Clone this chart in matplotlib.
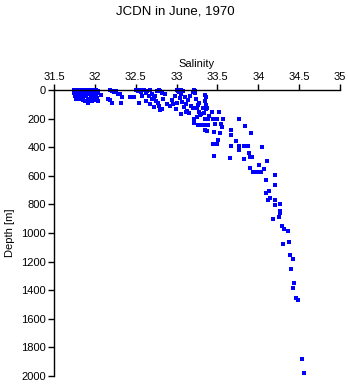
import matplotlib
matplotlib.use("Agg")
import matplotlib.pyplot as plt

plt.rcParams['font.family'] = ['Liberation Sans', 'DejaVu Sans']

title = "JCDN in June, 1970"
xlabel = "Salinity"
ylabel = "Depth [m]"
xticks = [31.5, 32, 32.5, 33, 33.5, 34, 34.5, 35]
xticklabels = ["31.5", "32", "32.5", "33", "33.5", "34", "34.5", "35"]
yticks = [0, 200, 400, 600, 800, 1000, 1200, 1400, 1600, 1800, 2000]

# surface cluster (fresh near-surface water)
sal_surface = [31.74, 31.76, 31.78, 31.80, 31.82, 31.84, 31.86, 31.88, 31.90, 31.92,
               31.94, 31.96, 31.98, 32.00, 32.02, 32.04, 31.75, 31.78, 31.81, 31.84,
               31.87, 31.90, 31.93, 31.95, 31.98, 32.01, 32.03, 31.76, 31.79, 31.83,
               31.86, 31.89, 31.92, 31.95, 31.97, 32.00, 32.03, 31.77, 31.80, 31.85,
               31.88, 31.91, 31.94, 31.97, 32.02, 32.04, 31.92]
dep_surface = [0, 5, 0, 10, 3, 0, 8, 2, 0, 6,
               0, 4, 0, 5, 0, 8, 20, 25, 18, 30,
               22, 28, 15, 35, 20, 30, 18, 45, 50, 40,
               55, 45, 60, 48, 65, 50, 55, 65, 60, 70,
               78, 85, 72, 80, 70, 75, 92]

# upper layer 32.05 - 33.2
sal_upper = [32.08, 32.16, 32.19, 32.21, 32.19, 32.21, 32.24, 32.26, 32.28, 32.31,
             32.33, 32.32, 32.43, 32.48,
             32.50, 32.53, 32.55, 32.57, 32.60, 32.62, 32.64, 32.67, 32.54, 32.63,
             32.58, 32.66, 32.70, 32.72, 32.74, 32.72, 32.75, 32.77, 32.79, 32.80,
             32.82, 32.82, 32.84, 32.86, 32.80, 32.78, 32.88, 32.70, 32.76, 32.68,
             32.92, 32.94, 32.96, 32.98, 33.00, 33.02, 33.03, 33.05, 33.06, 33.08,
             33.04, 33.07, 33.10, 33.12, 33.06, 33.09, 33.13, 33.15, 33.11, 33.14,
             33.16, 33.01, 32.99, 33.18]
dep_upper = [35, 62, 70, 94, 0, 8, 15, 5, 25, 30,
             51, 94, 51, 51,
             0, 5, 0, 12, 3, 20, 8, 0, 94, 75,
             40, 45, 25, 52, 40, 122, 75, 90, 0, 8,
             18, 136, 60, 30, 141, 110, 95, 60, 10, 100,
             115, 70, 100, 40, 0, 5, 15, 0, 25, 10,
             55, 85, 50, 153, 171, 120, 150, 160, 100, 70,
             40, 90, 130, 110]

# transition 33.2 - 33.6
sal_mid = [33.20, 33.22, 33.23, 33.21, 33.20, 33.25, 33.32, 33.37, 33.26, 33.28,
           33.29, 33.25, 33.35, 33.36, 33.35, 33.36, 33.36, 33.43, 33.52, 33.21,
           33.21, 33.35, 33.38, 33.45, 33.49, 33.57, 33.26, 33.29, 33.34, 33.38,
           33.47, 33.54, 33.55, 33.35, 33.37, 33.46, 33.53, 33.51, 33.44, 33.49,
           33.46, 33.30, 33.24, 33.28, 33.40, 33.33]
dep_mid = [12, 23, 7, 0, 129, 129, 129, 129, 105, 152,
           176, 188, 35, 51, 77, 106, 134, 153, 153, 200,
           228, 202, 202, 202, 202, 202, 243, 243, 243, 243,
           235, 235, 258, 277, 290, 295, 298, 347, 380, 380,
           462, 170, 60, 90, 180, 160]

# deep water
sal_deep = [33.77, 33.84, 33.91, 33.66, 33.67, 33.73, 34.05, 33.87, 33.83, 33.77,
            33.67, 33.76, 33.89, 33.92, 33.90, 33.83, 33.65, 34.11, 34.01, 33.90,
            34.07, 33.94, 33.98, 34.03, 34.20, 34.10, 34.20, 34.13, 34.10, 34.14,
            34.12, 34.21, 34.27, 34.21, 34.27, 34.27, 34.25, 34.18, 34.29, 34.31,
            34.36, 34.37, 34.30, 34.39, 34.43, 34.40, 34.44, 34.43, 34.46, 34.49,
            34.54, 34.56]
dep_deep = [206, 249, 298, 312, 280, 354, 397, 390, 390, 390,
            390, 420, 439, 469, 469, 484, 477, 495, 523, 544,
            554, 570, 570, 570, 594, 629, 664, 704, 723, 756,
            768, 768, 794, 801, 845, 857, 887, 901, 953, 970,
            988, 1063, 1080, 1152, 1185, 1251, 1347, 1383, 1453, 1470,
            1880, 1981]

salinity = sal_surface + sal_upper + sal_mid + sal_deep
depth = dep_surface + dep_upper + dep_mid + dep_deep

fig = plt.figure(figsize=(3.48, 3.84), dpi=100)
ax = fig.add_axes([54/348, 1 - 376/384, 286/348, 286/384])

ax.plot(salinity, depth, 's', color='#0000ff', markersize=2.4,
        markeredgewidth=0, clip_on=False)

ax.set_xlim(31.5, 35)
ax.set_ylim(2000, 0)
ax.xaxis.tick_top()
ax.xaxis.set_label_position('top')
ax.set_xticks(xticks)
ax.set_xticklabels(xticklabels)
ax.set_yticks(yticks)
ax.tick_params(direction='out', length=4, width=1, labelsize=8, pad=2, colors='black')
ax.spines['right'].set_visible(False)
ax.spines['bottom'].set_visible(False)
for s in ['top', 'left']:
    ax.spines[s].set_linewidth(1)

ax.set_xlabel(xlabel, fontsize=8, labelpad=3)
ax.set_ylabel(ylabel, fontsize=8, labelpad=4)
fig.text(175/348, 1 - 12/384, title, ha='center', va='center', fontsize=9.5)

fig.savefig("out.png", dpi=100)
